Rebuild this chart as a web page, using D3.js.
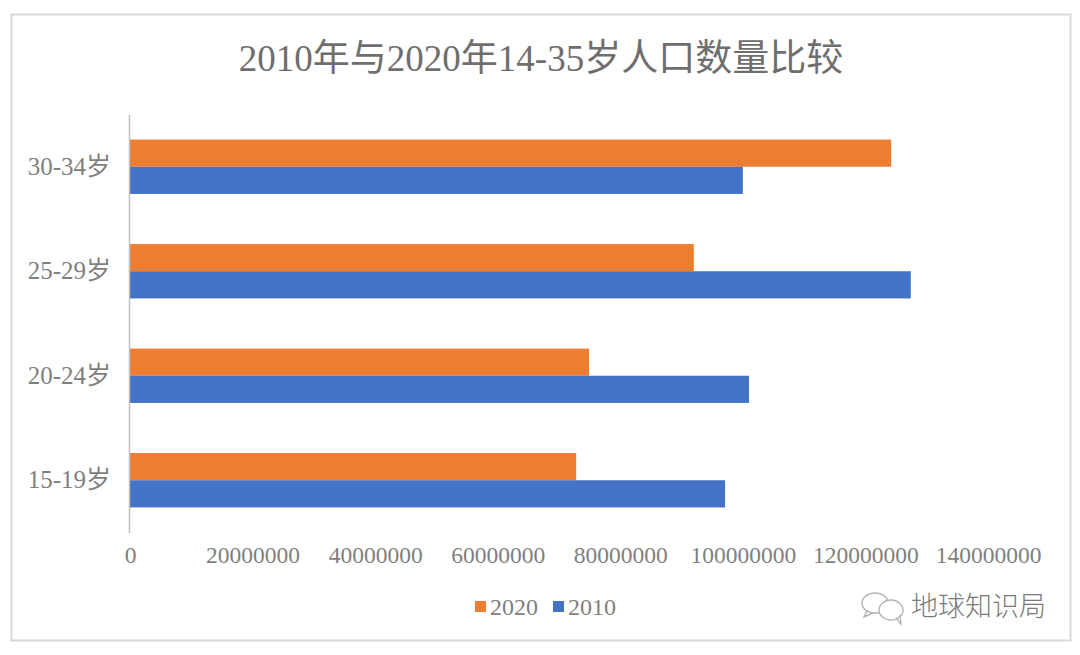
<!DOCTYPE html>
<html>
<head>
<meta charset="utf-8">
<script src="https://cdn.jsdelivr.net/npm/d3@7"></script>
<style>
  html, body { margin: 0; padding: 0; background: #fff; }
  text { font-family: "Liberation Serif", "Noto Sans CJK SC", serif; fill: #7f7f7f; }
</style>
</head>
<body>
<div id="chart"></div>
<script>
var titleText = '2010年与2020年14-35岁人口数量比较';
var ageGroups = ['30-34岁', '25-29岁', '20-24岁', '15-19岁'];
var values2020 = [124200000, 92000000, 74900000, 72800000];
var values2010 = [100000000, 127400000, 101000000, 97100000];
var seriesNames = ['2020', '2010'];
var seriesColors = ['#ed7d31', '#4472c4'];
var xTicks = [0, 20000000, 40000000, 60000000, 80000000, 100000000, 120000000, 140000000];

var width = 1080;
var height = 655;

var svg = d3.select('#chart').append('svg')
  .attr('width', width)
  .attr('height', height)
  .style('display', 'block');

// chart frame
svg.append('rect')
  .attr('x', 11.5)
  .attr('y', 14.5)
  .attr('width', 1059)
  .attr('height', 626)
  .attr('fill', '#fff')
  .attr('stroke', '#d9d9d9')
  .attr('stroke-width', 2);

svg.append('text')
  .attr('x', 541)
  .attr('y', 71)
  .attr('text-anchor', 'middle')
  .style('font-size', '37px')
  .style('fill', '#6e6e6e')
  .text(titleText);

var x = d3.scaleLinear().domain([0, 140000000]).range([130, 988]);
var y = d3.scaleBand().domain(ageGroups).range([114.5, 532.5]).paddingInner(0.48).paddingOuter(0.24);
var inner = d3.scaleBand().domain(seriesNames).range([0, y.bandwidth()]);

var rows = ageGroups.map(function(d, i) {
  return { age: d, vals: [values2020[i], values2010[i]] };
});

var groups = svg.selectAll('.row')
  .data(rows)
  .enter()
  .append('g')
  .attr('class', 'row')
  .attr('transform', function(d) { return 'translate(0,' + y(d.age) + ')'; });

groups.selectAll('rect')
  .data(function(d) { return d.vals; })
  .enter()
  .append('rect')
  .attr('x', x(0))
  .attr('y', function(d, i) { return inner(seriesNames[i]); })
  .attr('width', function(d) { return x(d) - x(0); })
  .attr('height', inner.bandwidth())
  .attr('fill', function(d, i) { return seriesColors[i]; });

var xAxis = svg.append('g')
  .attr('transform', 'translate(0,533)')
  .call(d3.axisBottom(x).tickValues(xTicks).tickSize(0).tickPadding(13).tickFormat(d3.format('d')));
xAxis.select('.domain').remove();
xAxis.selectAll('text').style('font-size', '23.5px').attr('font-family', null);

var yAxis = svg.append('g')
  .attr('transform', 'translate(129,0)')
  .call(d3.axisLeft(y).tickSize(0).tickPadding(18));
yAxis.select('.domain').attr('stroke', '#bfbfbf').attr('stroke-width', 1.5);
yAxis.selectAll('text').style('font-size', '25px');

// legend
var legend = svg.selectAll('.legend')
  .data(seriesNames)
  .enter()
  .append('g')
  .attr('class', 'legend')
  .attr('transform', function(d, i) { return 'translate(' + (475 + i * 78) + ',0)'; });

legend.append('rect')
  .attr('x', 0)
  .attr('y', 601)
  .attr('width', 11)
  .attr('height', 11)
  .attr('fill', function(d, i) { return seriesColors[i]; });

legend.append('text')
  .attr('x', 15)
  .attr('y', 615)
  .style('font-size', '24px')
  .text(function(d) { return d; });

// watermark
var mark = svg.append('g').attr('fill', 'none').attr('stroke', '#b5b5b5').attr('stroke-width', 1.4);
mark.append('ellipse').attr('cx', 875).attr('cy', 603).attr('rx', 13).attr('ry', 10);
mark.append('path').attr('d', 'M867 611 L864 617 L873 613');
mark.append('ellipse').attr('cx', 891).attr('cy', 610).attr('rx', 12).attr('ry', 10).attr('fill', '#fff');
mark.append('path').attr('d', 'M896 618 L901 624 L900 615');
svg.append('text')
  .attr('x', 911)
  .attr('y', 616)
  .style('font-family', '"Noto Sans CJK SC", sans-serif')
  .style('font-size', '27px')
  .style('font-weight', '300')
  .style('fill', '#7a7a7a')
  .text('地球知识局');
</script>
</body>
</html>
